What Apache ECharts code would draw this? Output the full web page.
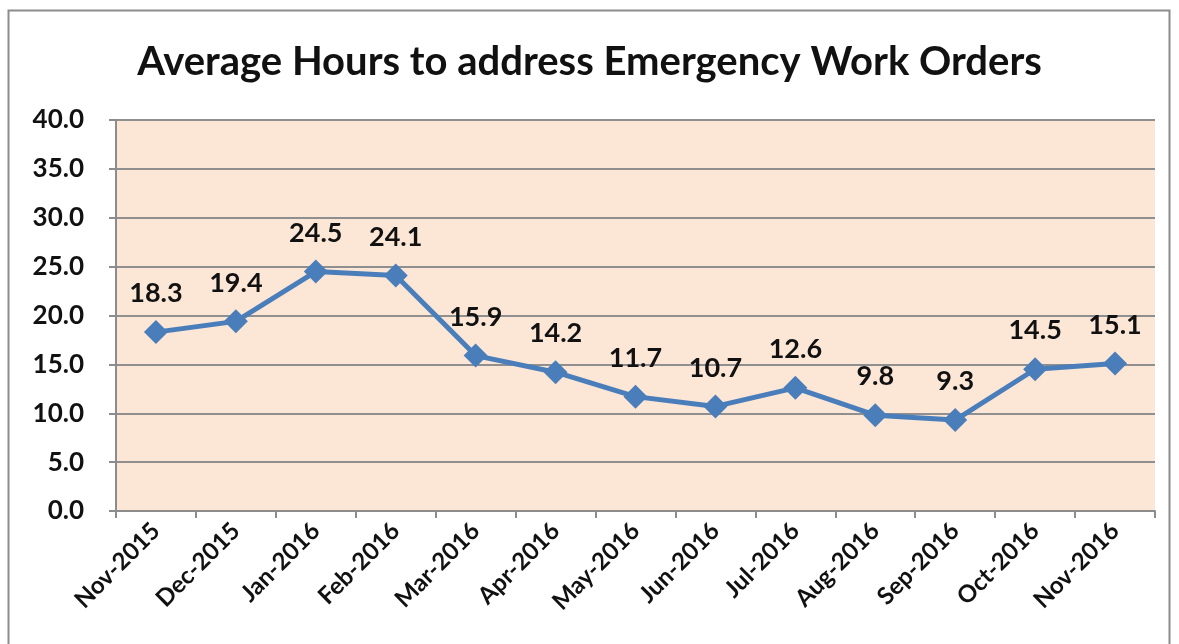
<!DOCTYPE html>
<html>
<head>
<meta charset="utf-8">
<script src="https://cdn.jsdelivr.net/npm/echarts@6/dist/echarts.min.js"></script>
<style>
  html, body { margin: 0; padding: 0; background: #fff; }
  #chart { width: 1179px; height: 644px; }
</style>
</head>
<body>
<div id="chart"></div>
<script>
// months and average hours
var months = ["Nov-2015", "Dec-2015", "Jan-2016", "Feb-2016", "Mar-2016", "Apr-2016", "May-2016",
  "Jun-2016", "Jul-2016", "Aug-2016", "Sep-2016", "Oct-2016", "Nov-2016"];
var hours = [18.3, 19.4, 24.5, 24.1, 15.9, 14.2, 11.7, 10.7, 12.6, 9.8, 9.3, 14.5, 15.1];
var yMin = 0, yMax = 40, yStep = 5;

var myChart = echarts.init(document.getElementById("chart"));
var font = "Lato, 'Open Sans', sans-serif";

var option = {
  backgroundColor: "#fff",
  animation: false,
  title: {
    text: "Average Hours to address Emergency Work Orders",
    left: "center",
    top: 37,
    textStyle: { fontFamily: font, fontSize: 40, fontWeight: "bold", color: "#111" }
  },
  graphic: [{
    type: "rect",
    shape: { x: 8.5, y: 10.5, width: 1161, height: 700 },
    style: { fill: "none", stroke: "#8c8c8c", lineWidth: 2 }
  }],
  grid: {
    left: 116, right: 24, top: 120, bottom: 133,
    show: true,
    backgroundColor: "#fce6d6",
    borderWidth: 0
  },
  xAxis: {
    type: "category",
    data: months,
    boundaryGap: true,
    axisLine: { lineStyle: { color: "#8c8c8c", width: 2 } },
    axisTick: { show: true, length: 7, lineStyle: { color: "#8c8c8c", width: 2 } },
    axisLabel: {
      rotate: 45, margin: 16, interval: 0,
      fontFamily: font, fontSize: 24, fontWeight: "bold", color: "#111"
    }
  },
  yAxis: {
    type: "value",
    min: yMin, max: yMax, interval: yStep,
    axisLine: { show: true, lineStyle: { color: "#8c8c8c", width: 2 } },
    axisTick: { show: true, length: 7, lineStyle: { color: "#8c8c8c", width: 2 } },
    splitLine: { lineStyle: { color: "#8f8f8f", width: 2 } },
    axisLabel: {
      margin: 32,
      formatter: function (v) { return v.toFixed(1); },
      fontFamily: font, fontSize: 26, fontWeight: "bold", color: "#111"
    }
  },
  series: [{
    type: "line",
    data: hours,
    symbol: "diamond",
    symbolSize: 24,
    lineStyle: { color: "#4a7ebb", width: 5 },
    itemStyle: { color: "#4a7ebb" },
    label: {
      show: true,
      position: "top",
      distance: 13,
      formatter: function (p) { return p.value.toFixed(1); },
      fontFamily: font, fontSize: 27, fontWeight: "bold", color: "#111"
    }
  }]
};

myChart.setOption(option, true);
</script>
</body>
</html>
